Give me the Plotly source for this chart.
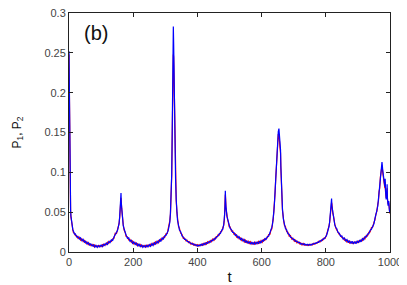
import plotly.graph_objects as go

t = [0, 1, 2, 3, 4, 5, 6, 8, 10, 12,
     14, 17, 20, 24, 28, 32, 36, 40, 44, 48,
     52, 56, 60, 64, 68, 72, 76, 80, 84, 88,
     92, 96, 100, 104, 108, 112, 116, 120, 124, 128,
     132, 136, 140, 144, 148, 151, 154, 156, 158, 160,
     161, 162, 163, 164, 165, 167, 169, 172, 175, 178,
     182, 186, 190, 194, 198, 202, 206, 210, 214, 218,
     222, 226, 230, 234, 238, 242, 246, 250, 254, 258,
     262, 266, 270, 274, 278, 282, 286, 290, 294, 298,
     302, 306, 309, 312, 314, 316, 318, 320, 321, 322,
     323, 324, 325, 326, 327, 328, 329, 330, 332, 334,
     336, 338, 341, 344, 348, 352, 356, 360, 364, 368,
     372, 376, 380, 384, 388, 392, 396, 400, 404, 408,
     412, 416, 420, 424, 428, 432, 436, 440, 444, 448,
     452, 456, 460, 464, 468, 472, 476, 479, 482, 484,
     485, 486, 487, 488, 489, 490, 491, 492, 494, 496,
     499, 502, 506, 510, 514, 518, 522, 526, 530, 534,
     538, 542, 546, 550, 554, 558, 562, 566, 570, 574,
     578, 582, 586, 590, 594, 598, 602, 606, 610, 614,
     618, 622, 626, 629, 632, 634, 636, 638, 640, 642,
     644, 646, 648, 650, 652, 654, 655, 656, 657, 658,
     659, 660, 661, 663, 665, 668, 671, 674, 678, 682,
     686, 690, 694, 698, 702, 706, 710, 714, 718, 722,
     726, 730, 734, 738, 742, 746, 750, 754, 758, 762,
     766, 770, 774, 778, 782, 786, 790, 794, 798, 802,
     805, 808, 810, 812, 814, 816, 817, 818, 819, 820,
     821, 822, 824, 826, 828, 831, 834, 838, 842, 846,
     850, 854, 858, 862, 866, 870, 874, 878, 882, 886,
     890, 894, 898, 902, 906, 910, 914, 918, 922, 926,
     930, 934, 938, 942, 946, 950, 953, 956, 959, 962,
     964, 966, 968, 970, 972, 974, 975, 976, 977, 978,
     979, 980, 982, 984, 985, 986, 988, 990, 991, 992,
     994, 996, 998, 1000]

# P2 (blue)
p2 = [0.252, 0.19, 0.13, 0.088, 0.066, 0.052, 0.045, 0.037, 0.031, 0.028,
      0.026, 0.0225, 0.0228, 0.0188, 0.0195, 0.0162, 0.0178, 0.0142, 0.0158, 0.0122,
      0.0135, 0.0102, 0.0118, 0.0088, 0.0102, 0.0076, 0.0092, 0.0062, 0.0084, 0.0058,
      0.0082, 0.0062, 0.0088, 0.0068, 0.0098, 0.0082, 0.0112, 0.0095, 0.0132, 0.0118,
      0.0152, 0.0145, 0.0188, 0.0222, 0.0245, 0.0268, 0.0322, 0.036, 0.045, 0.058,
      0.066, 0.074, 0.061, 0.056, 0.048, 0.041, 0.033, 0.0285, 0.0228, 0.0212,
      0.0172, 0.0178, 0.0135, 0.0148, 0.0108, 0.0128, 0.0094, 0.0112, 0.0078, 0.0098,
      0.0068, 0.0088, 0.0058, 0.0082, 0.0059, 0.0084, 0.0064, 0.0094, 0.0072, 0.0104,
      0.0082, 0.0118, 0.0098, 0.0134, 0.0114, 0.0152, 0.0132, 0.0175, 0.0162, 0.0202,
      0.0208, 0.0252, 0.0268, 0.033, 0.037, 0.049, 0.066, 0.098, 0.13, 0.165,
      0.215, 0.25, 0.283, 0.262, 0.235, 0.198, 0.16, 0.135, 0.092, 0.066,
      0.049, 0.04, 0.034, 0.0275, 0.0255, 0.0202, 0.0188, 0.0158, 0.0158, 0.0132,
      0.0132, 0.0115, 0.0112, 0.0098, 0.0102, 0.0084, 0.0092, 0.0074, 0.0088, 0.0076,
      0.0098, 0.0084, 0.0108, 0.0094, 0.0118, 0.0108, 0.0132, 0.0122, 0.0148, 0.0142,
      0.0168, 0.0162, 0.0195, 0.0198, 0.0228, 0.0235, 0.0275, 0.0285, 0.0345, 0.041,
      0.048, 0.058, 0.077, 0.064, 0.057, 0.049, 0.052, 0.045, 0.042, 0.037,
      0.034, 0.0295, 0.0282, 0.0245, 0.0245, 0.0208, 0.0215, 0.0178, 0.0192, 0.0155,
      0.0172, 0.0138, 0.0155, 0.0118, 0.0142, 0.0108, 0.0132, 0.0098, 0.0124, 0.0094,
      0.0122, 0.0096, 0.0128, 0.0102, 0.0138, 0.0112, 0.0148, 0.0136, 0.0168, 0.0158,
      0.0195, 0.0198, 0.0242, 0.0255, 0.0312, 0.035, 0.041, 0.05, 0.061, 0.075,
      0.093, 0.114, 0.133, 0.146, 0.151, 0.155, 0.149, 0.141, 0.135, 0.138,
      0.128, 0.108, 0.09, 0.067, 0.054, 0.041, 0.036, 0.0298, 0.0278, 0.0228,
      0.0222, 0.0185, 0.0182, 0.0155, 0.0158, 0.0132, 0.0138, 0.0115, 0.0122, 0.0098,
      0.0108, 0.0092, 0.0102, 0.0086, 0.0098, 0.0082, 0.0098, 0.0086, 0.0102, 0.0098,
      0.0112, 0.0108, 0.0125, 0.0122, 0.0142, 0.0138, 0.0162, 0.0162, 0.0182, 0.0205,
      0.0245, 0.0285, 0.032, 0.038, 0.046, 0.054, 0.06, 0.067, 0.058, 0.055,
      0.049, 0.051, 0.044, 0.039, 0.034, 0.031, 0.0295, 0.0245, 0.0235, 0.0198,
      0.0202, 0.0162, 0.0175, 0.0138, 0.0155, 0.0118, 0.0142, 0.0108, 0.0135, 0.0102,
      0.0132, 0.0105, 0.0142, 0.0115, 0.0152, 0.0128, 0.0168, 0.0152, 0.0192, 0.0188,
      0.0225, 0.0228, 0.0272, 0.0285, 0.0328, 0.0355, 0.042, 0.046, 0.052, 0.058,
      0.066, 0.074, 0.082, 0.092, 0.101, 0.108, 0.113, 0.109, 0.104, 0.098,
      0.102, 0.094, 0.088, 0.082, 0.092, 0.078, 0.066, 0.072, 0.085, 0.068,
      0.058, 0.064, 0.052, 0.05]

# P1 (red)
p1 = [0.248, 0.186, 0.128, 0.086, 0.065, 0.051, 0.044, 0.036, 0.0305, 0.0275,
      0.0242, 0.0238, 0.0205, 0.0205, 0.0172, 0.0185, 0.0148, 0.0165, 0.0132, 0.0145,
      0.0112, 0.0125, 0.0092, 0.0108, 0.0082, 0.0096, 0.0072, 0.0088, 0.0065, 0.0078,
      0.0066, 0.0082, 0.0068, 0.0092, 0.0078, 0.0102, 0.0092, 0.0122, 0.0108, 0.0138,
      0.0132, 0.0165, 0.0172, 0.0235, 0.0232, 0.0282, 0.0302, 0.0355, 0.044, 0.056,
      0.064, 0.068, 0.063, 0.055, 0.049, 0.04, 0.034, 0.0272, 0.0245, 0.0195,
      0.0192, 0.0152, 0.0158, 0.0122, 0.0138, 0.0102, 0.0118, 0.0088, 0.0105, 0.0076,
      0.0095, 0.0068, 0.0084, 0.0064, 0.0082, 0.0066, 0.0088, 0.0074, 0.0098, 0.0082,
      0.0112, 0.0094, 0.0128, 0.0108, 0.0145, 0.0128, 0.0165, 0.0152, 0.0188, 0.0182,
      0.0228, 0.0232, 0.0292, 0.0315, 0.039, 0.047, 0.067, 0.096, 0.128, 0.162,
      0.205, 0.238, 0.248, 0.245, 0.226, 0.192, 0.158, 0.132, 0.09, 0.065,
      0.05, 0.041, 0.0325, 0.0298, 0.0235, 0.0222, 0.0172, 0.0175, 0.0142, 0.0148,
      0.0118, 0.0128, 0.0098, 0.0112, 0.0086, 0.0098, 0.0076, 0.0092, 0.0074, 0.0094,
      0.0082, 0.0102, 0.0088, 0.0115, 0.0098, 0.0128, 0.0112, 0.0145, 0.0128, 0.0162,
      0.0148, 0.0185, 0.0178, 0.0215, 0.0212, 0.0252, 0.0262, 0.0302, 0.0335, 0.04,
      0.049, 0.057, 0.072, 0.066, 0.055, 0.051, 0.048, 0.046, 0.041, 0.038,
      0.0318, 0.0315, 0.0262, 0.0265, 0.0222, 0.0228, 0.0188, 0.0198, 0.0165, 0.0178,
      0.0145, 0.0162, 0.0126, 0.0148, 0.0112, 0.0135, 0.0102, 0.0128, 0.0098, 0.0118,
      0.0098, 0.0122, 0.0104, 0.0132, 0.0108, 0.0142, 0.0122, 0.0155, 0.0145, 0.0175,
      0.0178, 0.0218, 0.0222, 0.0272, 0.0292, 0.0362, 0.0402, 0.051, 0.06, 0.074,
      0.092, 0.112, 0.131, 0.143, 0.148, 0.146, 0.144, 0.138, 0.132, 0.13,
      0.124, 0.105, 0.088, 0.068, 0.052, 0.042, 0.0335, 0.0322, 0.0255, 0.0248,
      0.0198, 0.0205, 0.0162, 0.0172, 0.0135, 0.0148, 0.0115, 0.0128, 0.0102, 0.0115,
      0.0088, 0.0106, 0.0085, 0.0095, 0.0082, 0.0094, 0.0084, 0.0098, 0.0088, 0.0108,
      0.0098, 0.0118, 0.0112, 0.0135, 0.0125, 0.0152, 0.0145, 0.0175, 0.0172, 0.0212,
      0.0252, 0.0278, 0.0328, 0.0372, 0.047, 0.053, 0.058, 0.062, 0.06, 0.053,
      0.05, 0.048, 0.045, 0.038, 0.035, 0.0302, 0.0282, 0.0258, 0.0218, 0.0212,
      0.0182, 0.0178, 0.0148, 0.0158, 0.0125, 0.0138, 0.0112, 0.0128, 0.0108, 0.0122,
      0.0112, 0.0128, 0.0118, 0.0138, 0.0128, 0.0152, 0.0142, 0.0175, 0.0165, 0.0208,
      0.0202, 0.0248, 0.0252, 0.0305, 0.0312, 0.0372, 0.0402, 0.0472, 0.051, 0.06,
      0.064, 0.076, 0.08, 0.094, 0.098, 0.106, 0.108, 0.106, 0.101, 0.096,
      0.099, 0.092, 0.086, 0.08, 0.088, 0.076, 0.068, 0.07, 0.08, 0.066,
      0.06, 0.062, 0.054, 0.048]

assert len(t) == len(p1) == len(p2)

x_ticks = [0, 200, 400, 600, 800, 1000]
y_ticks = [0, 0.05, 0.1, 0.15, 0.2, 0.25, 0.3]
y_tick_text = ["0", "0.05", "0.1", "0.15", "0.2", "0.25", "0.3"]

FONT = "Liberation Sans, Arial, sans-serif"

fig = go.Figure()
fig.add_trace(go.Scatter(x=t, y=p1, mode="lines", line=dict(color="#ff0000", width=1.2), name="P1"))
fig.add_trace(go.Scatter(x=t, y=p2, mode="lines", line=dict(color="#0000ff", width=1.2), name="P2"))

axis_common = dict(
    showline=True, linecolor="#222222", linewidth=1, mirror="allticks",
    ticks="inside", ticklen=4, tickcolor="#222222", showgrid=False, zeroline=False,
    automargin=False, ticklabeloverflow="allow",
    tickfont=dict(family=FONT, size=11, color="#444444"),
)

# page body has an 8px margin, so the figure is sized to fit the 407x285 window
fig.update_layout(
    width=399, height=277,
    margin=dict(l=61, r=17, t=5, b=33),
    plot_bgcolor="white", paper_bgcolor="white",
    showlegend=False,
    xaxis=dict(range=[0, 1000], tickvals=x_ticks, **axis_common,
               title=dict(text="t", font=dict(family=FONT, size=15, color="#111111"), standoff=4)),
    yaxis=dict(range=[0, 0.3], tickvals=y_ticks, ticktext=y_tick_text, **axis_common,
               title=dict(text="P<sub>1</sub>, P<sub>2</sub>", font=dict(family=FONT, size=12, color="#111111"), standoff=20)),
    annotations=[dict(text="(b)", x=0.04, y=0.915, xref="paper", yref="paper", xanchor="left", yanchor="middle",
                      showarrow=False, font=dict(family=FONT, size=20, color="#111111"))],
)

fig.write_html("out.html")
